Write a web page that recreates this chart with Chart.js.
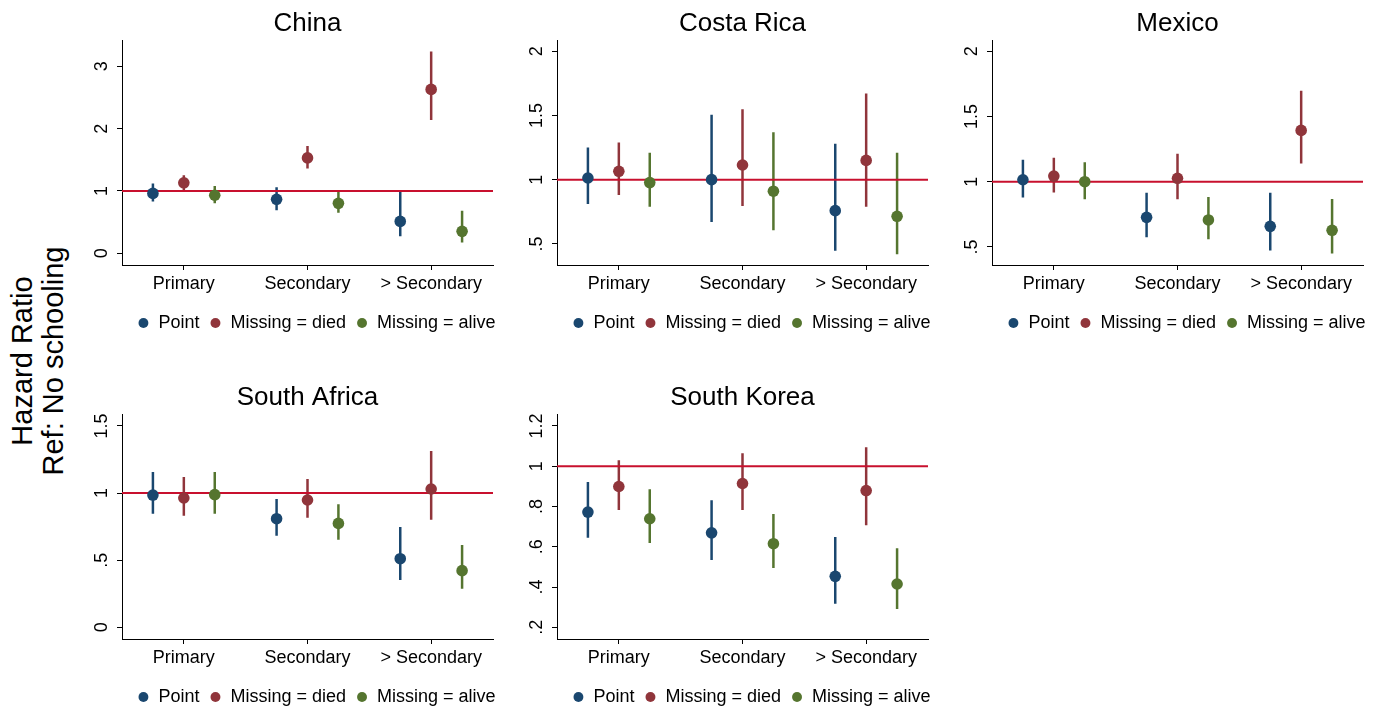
<!DOCTYPE html>
<html>
<head>
<meta charset="utf-8">
<script src="https://cdn.jsdelivr.net/npm/chart.js@4"></script>
<style>
  html, body { margin: 0; padding: 0; background: #fff; overflow: hidden; width: 1386px; height: 712px; }
  canvas { position: absolute; }
  #ytitle {
    position: absolute; left: 38px; top: 361px;
    transform: translate(-50%, -50%) rotate(-90deg);
    font: 29px 'Liberation Sans', Arial, sans-serif; line-height: 31px;
    text-align: center; white-space: nowrap; color: #000;
  }
</style>
</head>
<body>
<div id="ytitle">Hazard Ratio<br>Ref: No schooling</div>
<script>
// categories and series
const categories = ['Primary', 'Secondary', '> Secondary'];
const seriesNames = ['Point', 'Missing = died', 'Missing = alive'];

// rows: Point, Missing = died, Missing = alive -- columns follow categories
const chinaEst = [[0.96, 0.865, 0.51], [1.13, 1.53, 2.63], [0.93, 0.80, 0.35]];
const chinaLo  = [[0.83, 0.69, 0.27], [1.01, 1.36, 2.14], [0.80, 0.65, 0.17]];
const chinaHi  = [[1.12, 1.06, 0.99], [1.25, 1.72, 3.24], [1.08, 0.99, 0.68]];

const costaEst = [[1.013, 1.0, 0.759], [1.065, 1.114, 1.15], [0.977, 0.91, 0.715]];
const costaLo  = [[0.81, 0.67, 0.446], [0.88, 0.795, 0.79], [0.79, 0.606, 0.42]];
const costaHi  = [[1.25, 1.505, 1.28], [1.29, 1.547, 1.67], [1.21, 1.368, 1.21]];

const mexicoEst = [[1.015, 0.727, 0.658], [1.043, 1.026, 1.393], [1.0, 0.707, 0.628]];
const mexicoLo  = [[0.88, 0.574, 0.474], [0.918, 0.865, 1.14], [0.865, 0.559, 0.45]];
const mexicoHi  = [[1.168, 0.916, 0.916], [1.184, 1.214, 1.696], [1.15, 0.883, 0.867]];

const safricaEst = [[0.985, 0.809, 0.511], [0.963, 0.948, 1.03], [0.988, 0.774, 0.422]];
const safricaLo  = [[0.846, 0.682, 0.352], [0.831, 0.816, 0.801], [0.846, 0.653, 0.288]];
const safricaHi  = [[1.156, 0.955, 0.747], [1.119, 1.104, 1.313], [1.156, 0.916, 0.613]];

const skoreaEst = [[0.772, 0.669, 0.453], [0.899, 0.914, 0.879], [0.739, 0.615, 0.415]];
const skoreaLo  = [[0.645, 0.534, 0.317], [0.783, 0.783, 0.707], [0.618, 0.494, 0.291]];
const skoreaHi  = [[0.921, 0.831, 0.648], [1.03, 1.064, 1.094], [0.886, 0.762, 0.593]];

// y tick labels and axis ranges
const chinaTicks = [0, 1, 2, 3];
const costaTicks = [0.5, 1, 1.5, 2];
const mexicoTicks = [0.5, 1, 1.5, 2];
const safricaTicks = [0, 0.5, 1, 1.5];
const skoreaTicks = [0.2, 0.4, 0.6, 0.8, 1, 1.2];
const refValue = 1;

const colors = ['#1a476f', '#90353b', '#55752f'];
const refColor = '#c8102e';
const offsets = [-0.25, 0, 0.25];
const FONT = "'Liberation Sans', Arial, Helvetica, sans-serif";

Chart.defaults.font.family = FONT;
Chart.defaults.color = '#000';

const fmt = v => (Math.round(v * 10) / 10).toString().replace(/^0\./, '.');

// draws the rotated y tick labels (Stata style)
const yTickLabels = {
  id: 'yTickLabels',
  afterDraw(chart) {
    const s = chart.scales.y;
    const ctx = chart.ctx;
    ctx.save();
    ctx.fillStyle = '#000';
    ctx.font = '18px ' + FONT;
    ctx.textAlign = 'center';
    ctx.textBaseline = 'alphabetic';
    s.ticks.forEach(t => {
      const y = s.getPixelForValue(t.value);
      ctx.save();
      ctx.translate(s.right - 15, y);
      ctx.rotate(-Math.PI / 2);
      ctx.fillText(fmt(t.value), 0, 0);
      ctx.restore();
    });
    ctx.restore();
  }
};

const panels = [
  { title: 'China', est: chinaEst, lo: chinaLo, hi: chinaHi, ticks: chinaTicks, min: -0.19, max: 3.42, left: 122, top: 0 },
  { title: 'Costa Rica', est: costaEst, lo: costaLo, hi: costaHi, ticks: costaTicks, min: 0.336, max: 2.085, left: 557, top: 0 },
  { title: 'Mexico', est: mexicoEst, lo: mexicoLo, hi: mexicoHi, ticks: mexicoTicks, min: 0.362, max: 2.084, left: 992, top: 0 },
  { title: 'South Africa', est: safricaEst, lo: safricaLo, hi: safricaHi, ticks: safricaTicks, min: -0.087, max: 1.587, left: 122, top: 374 },
  { title: 'South Korea', est: skoreaEst, lo: skoreaLo, hi: skoreaHi, ticks: skoreaTicks, min: 0.142, max: 1.258, left: 557, top: 374 }
];

function makeChart(p) {
  const canvas = document.createElement('canvas');
  canvas.width = 489;
  canvas.height = 342;
  canvas.style.left = (p.left - 50) + 'px';
  canvas.style.top = p.top + 'px';
  document.body.appendChild(canvas);

  const datasets = [];
  seriesNames.forEach((name, s) => {
    datasets.push({
      type: 'scatter',
      label: name,
      data: categories.map((c, i) => ({ x: i + 1 + offsets[s], y: p.est[s][i] })),
      backgroundColor: colors[s],
      borderColor: colors[s],
      borderWidth: 0,
      pointRadius: 5.8,
      order: 0
    });
  });
  datasets.push({
    type: 'line',
    label: 'ref',
    data: [{ x: 0.5, y: refValue }, { x: 3.5, y: refValue }],
    borderColor: refColor,
    borderWidth: 2,
    pointRadius: 0,
    order: 1
  });
  seriesNames.forEach((name, s) => {
    const pts = [];
    categories.forEach((c, i) => {
      const x = i + 1 + offsets[s];
      pts.push({ x: x, y: p.lo[s][i] }, { x: x, y: p.hi[s][i] }, { x: x, y: null });
    });
    datasets.push({
      type: 'line',
      label: name + ' CI',
      data: pts,
      borderColor: colors[s],
      borderWidth: 2.5,
      pointRadius: 0,
      spanGaps: false,
      order: 2
    });
  });

  const axisGrid = { display: true, drawOnChartArea: false, drawTicks: true, tickLength: 5, color: '#000', lineWidth: 1 };
  const axisBorder = { display: true, color: '#000', width: 1 };

  new Chart(canvas, {
    type: 'scatter',
    data: { datasets },
    options: {
      responsive: false,
      animation: false,
      events: [],
      layout: { padding: 0 },
      plugins: {
        tooltip: { enabled: false },
        title: {
          display: true,
          text: p.title,
          fullSize: false,
          color: '#000',
          font: { size: 26, weight: 'normal' },
          padding: { top: 8, bottom: 1 }
        },
        legend: {
          position: 'bottom',
          labels: {
            usePointStyle: true,
            pointStyle: 'circle',
            boxWidth: 12,
            boxHeight: 7,
            padding: 10,
            color: '#000',
            font: { size: 18 },
            filter: item => item.datasetIndex < 3
          }
        }
      },
      scales: {
        x: {
          type: 'linear',
          min: 0.5,
          max: 3.5,
          afterBuildTicks: s => { s.ticks = categories.map((c, i) => ({ value: i + 1 })); },
          afterFit: s => { s.height = 39; },
          ticks: {
            callback: v => categories[v - 1],
            autoSkip: false,
            maxRotation: 0,
            padding: 3,
            color: '#000',
            font: { size: 18 }
          },
          grid: axisGrid,
          border: axisBorder
        },
        y: {
          type: 'linear',
          min: p.min,
          max: p.max,
          afterBuildTicks: s => { s.ticks = p.ticks.map(v => ({ value: v })); },
          afterFit: s => { s.width = 50; },
          ticks: { display: false },
          grid: axisGrid,
          border: axisBorder
        },
        y2: {
          position: 'right',
          display: true,
          afterFit: s => { s.width = 68; },
          ticks: { display: false },
          grid: { display: false },
          border: { display: false }
        }
      }
    },
    plugins: [yTickLabels]
  });
}

panels.forEach(makeChart);
</script>
</body>
</html>
